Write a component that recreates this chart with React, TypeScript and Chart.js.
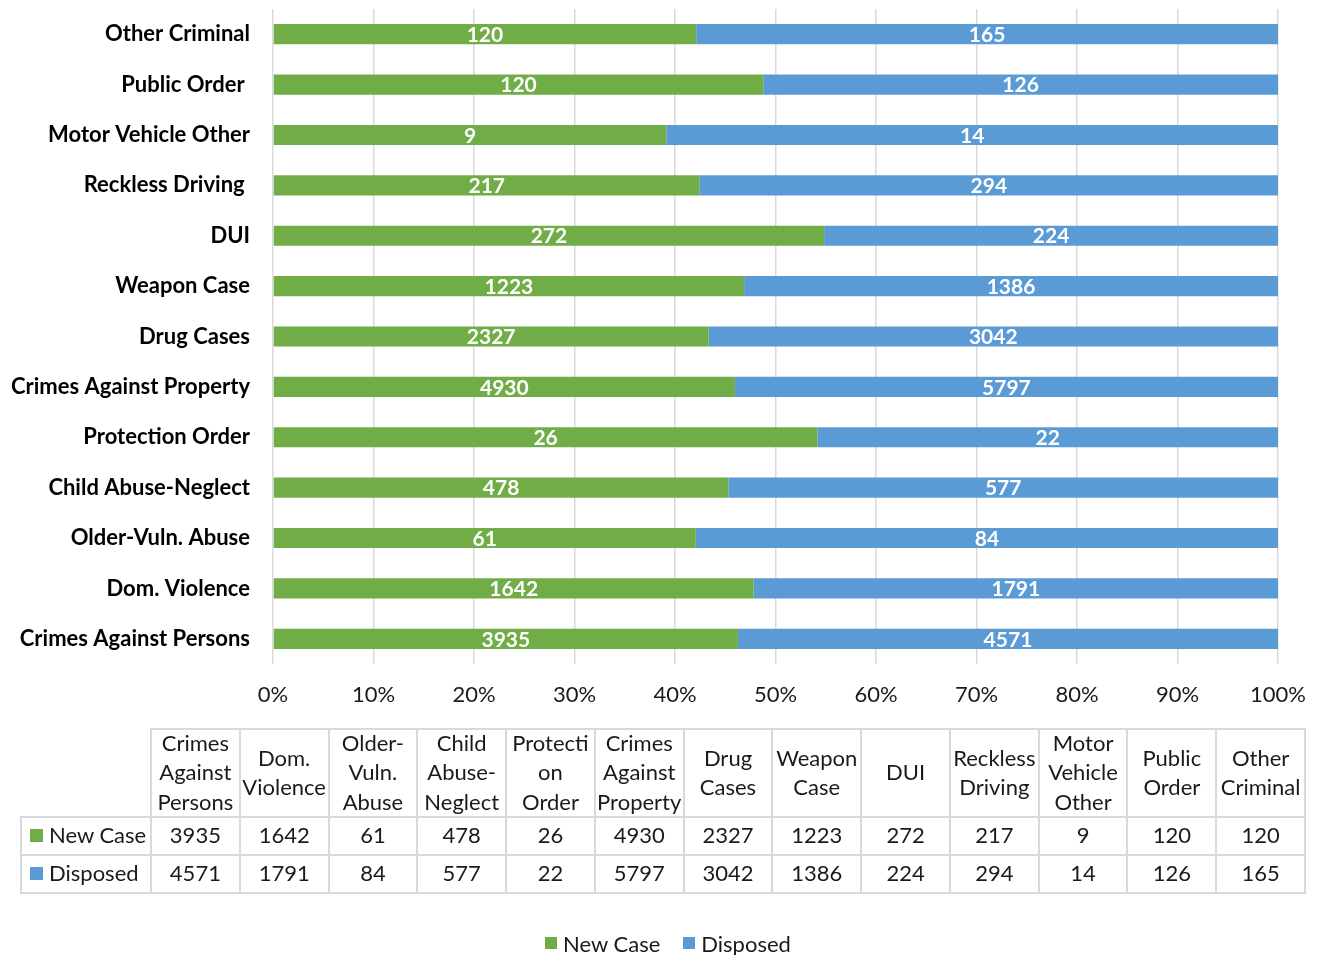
import React, { useEffect, useRef } from "react";
import { Chart, registerables } from "chart.js";

Chart.register(...registerables);

const categories = [
  "Crimes Against Persons",
  "Dom. Violence",
  "Older-Vuln. Abuse",
  "Child Abuse-Neglect",
  "Protection Order",
  "Crimes Against Property",
  "Drug Cases",
  "Weapon Case",
  "DUI",
  "Reckless Driving ",
  "Motor Vehicle Other",
  "Public Order ",
  "Other Criminal",
];

const tableHeaders = [
  ["Crimes", "Against", "Persons"],
  ["Dom.", "Violence"],
  ["Older-", "Vuln.", "Abuse"],
  ["Child", "Abuse-", "Neglect"],
  ["Protecti", "on", "Order"],
  ["Crimes", "Against", "Property"],
  ["Drug", "Cases"],
  ["Weapon", "Case"],
  ["DUI"],
  ["Reckless", "Driving"],
  ["Motor", "Vehicle", "Other"],
  ["Public", "Order"],
  ["Other", "Criminal"],
];

const newCase = [3935, 1642, 61, 478, 26, 4930, 2327, 1223, 272, 217, 9, 120, 120];
const disposed = [4571, 1791, 84, 577, 22, 5797, 3042, 1386, 224, 294, 14, 126, 165];

const seriesNames = ["New Case", "Disposed"];
const seriesColors = ["#70AD47", "#5B9BD5"];
const xTickValues = [0, 10, 20, 30, 40, 50, 60, 70, 80, 90, 100];

const FONT = "Lato, 'Open Sans', sans-serif";
const TEXT = "#1a1a1a";
const GRID = "#d9d9d9";

const rawSeries = [newCase, disposed];
const pctSeries = rawSeries.map((arr) =>
  arr.map((v, i) => (v / (newCase[i] + disposed[i])) * 100)
);

const labelPlugin = {
  id: "innerLabels",
  afterDatasetsDraw(chart: any) {
    const ctx = chart.ctx;
    ctx.save();
    ctx.font = `bold 21px ${FONT}`;
    ctx.fillStyle = "#ffffff";
    ctx.textAlign = "center";
    ctx.textBaseline = "middle";
    chart.data.datasets.forEach((ds: any, di: number) => {
      const meta = chart.getDatasetMeta(di);
      meta.data.forEach((el: any, i: number) => {
        const cx = (el.x + el.base) / 2;
        ctx.fillText(String(rawSeries[di][i]), cx, el.y + 1);
      });
    });
    ctx.restore();
  },
};

// table geometry
const TBL_X0 = 151;
const COL_W = (1305 - 151) / 13;
const LEG_X0 = 21;
const ROW_Y = [729, 817, 855, 893];

export default function App() {
  const ref = useRef<HTMLCanvasElement | null>(null);

  useEffect(() => {
    if (!ref.current) return;
    const chart = new Chart(ref.current, {
      type: "bar",
      data: {
        labels: categories,
        datasets: seriesNames.map((name, k) => ({
          label: name,
          data: pctSeries[k],
          backgroundColor: seriesColors[k],
          borderWidth: 0,
          categoryPercentage: 1,
          barPercentage: 0.4,
        })),
      },
      options: {
        indexAxis: "y",
        animation: false,
        responsive: false,
        maintainAspectRatio: false,
        layout: { padding: { top: 9, right: 42, bottom: 245, left: 0 } },
        plugins: {
          legend: { display: false },
          tooltip: { enabled: false },
        },
        scales: {
          x: {
            stacked: true,
            min: 0,
            max: 100,
            afterBuildTicks(scale: any) {
              scale.ticks = xTickValues.map((v) => ({ value: v }));
            },
            afterFit(scale: any) {
              scale.height = 46;
              scale.paddingRight = 0;
            },
            ticks: {
              callback: (v: any) => v + "%",
              font: { family: FONT, size: 22 },
              color: TEXT,
              padding: 18,
              maxRotation: 0,
              autoSkip: false,
            },
            grid: { color: GRID, lineWidth: 1.5, drawTicks: false },
            border: { display: false },
          },
          y: {
            stacked: true,
            reverse: true,
            afterFit(scale: any) {
              scale.width = 273;
              scale.paddingTop = 0;
              scale.paddingBottom = 0;
            },
            ticks: {
              font: { family: FONT, size: 22, weight: "bold" },
              color: "#000",
              padding: 23,
              autoSkip: false,
            },
            grid: { display: false, drawTicks: false },
            border: { display: false },
          },
        },
      },
      plugins: [labelPlugin],
    } as any);
    return () => chart.destroy();
  }, []);

  const cells: any[] = [];
  const border = `2px solid ${GRID}`;
  const cellBase: any = {
    position: "absolute",
    boxSizing: "border-box",
    border,
    display: "flex",
    flexDirection: "column",
    alignItems: "center",
    justifyContent: "center",
    fontSize: 22,
    color: TEXT,
    lineHeight: "29.5px",
    textAlign: "center",
  };
  tableHeaders.forEach((lines, i) => {
    const x0 = TBL_X0 + i * COL_W;
    cells.push(
      <div
        key={"h" + i}
        style={{
          ...cellBase,
          left: x0 - 1,
          width: COL_W + 2,
          top: ROW_Y[0] - 1,
          height: ROW_Y[1] - ROW_Y[0] + 2,
          paddingBottom: 2,
        }}
      >
        {lines.map((l, j) => (
          <div key={j} style={{ whiteSpace: "nowrap" }}>{l}</div>
        ))}
      </div>
    );
    rawSeries.forEach((arr, r) => {
      cells.push(
        <div
          key={"c" + r + "-" + i}
          style={{
            ...cellBase,
            left: x0 - 1,
            width: COL_W + 2,
            top: ROW_Y[r + 1] - 1,
            height: ROW_Y[r + 2] - ROW_Y[r + 1] + 2,
            paddingBottom: 2,
          }}
        >
          {arr[i]}
        </div>
      );
    });
  });
  seriesNames.forEach((name, r) => {
    cells.push(
      <div
        key={"l" + r}
        style={{
          ...cellBase,
          left: LEG_X0 - 1,
          width: TBL_X0 - LEG_X0 + 2,
          top: ROW_Y[r + 1] - 1,
          height: ROW_Y[r + 2] - ROW_Y[r + 1] + 2,
          flexDirection: "row",
          justifyContent: "flex-start",
          paddingLeft: 8,
          paddingBottom: 2,
        }}
      >
        <span
          style={{
            display: "inline-block",
            width: 13,
            height: 13,
            background: seriesColors[r],
            marginRight: 6,
          }}
        />
        <span>{name}</span>
      </div>
    );
  });

  return (
    <div
      style={{
        position: "fixed",
        left: 0,
        top: 0,
        width: 1320,
        height: 955,
        background: "#fff",
        fontFamily: FONT,
        overflow: "hidden",
      }}
    >
      <canvas
        ref={ref}
        width={1320}
        height={955}
        style={{ position: "absolute", left: 0, top: 0, width: 1320, height: 955 }}
      />
      {cells}
      <div
        style={{
          position: "absolute",
          left: 0,
          width: 1320,
          top: 929,
          height: 28,
          display: "flex",
          justifyContent: "center",
          alignItems: "center",
          fontSize: 22,
          color: TEXT,
          paddingLeft: 16,
          boxSizing: "border-box",
        }}
      >
        {seriesNames.map((name, r) => (
          <div
            key={name}
            style={{ display: "flex", alignItems: "center", marginRight: r === 0 ? 23 : 0 }}
          >
            <span
              style={{
                display: "inline-block",
                width: 12,
                height: 12,
                background: seriesColors[r],
                marginRight: 6,
              }}
            />
            <span>{name}</span>
          </div>
        ))}
      </div>
    </div>
  );
}
